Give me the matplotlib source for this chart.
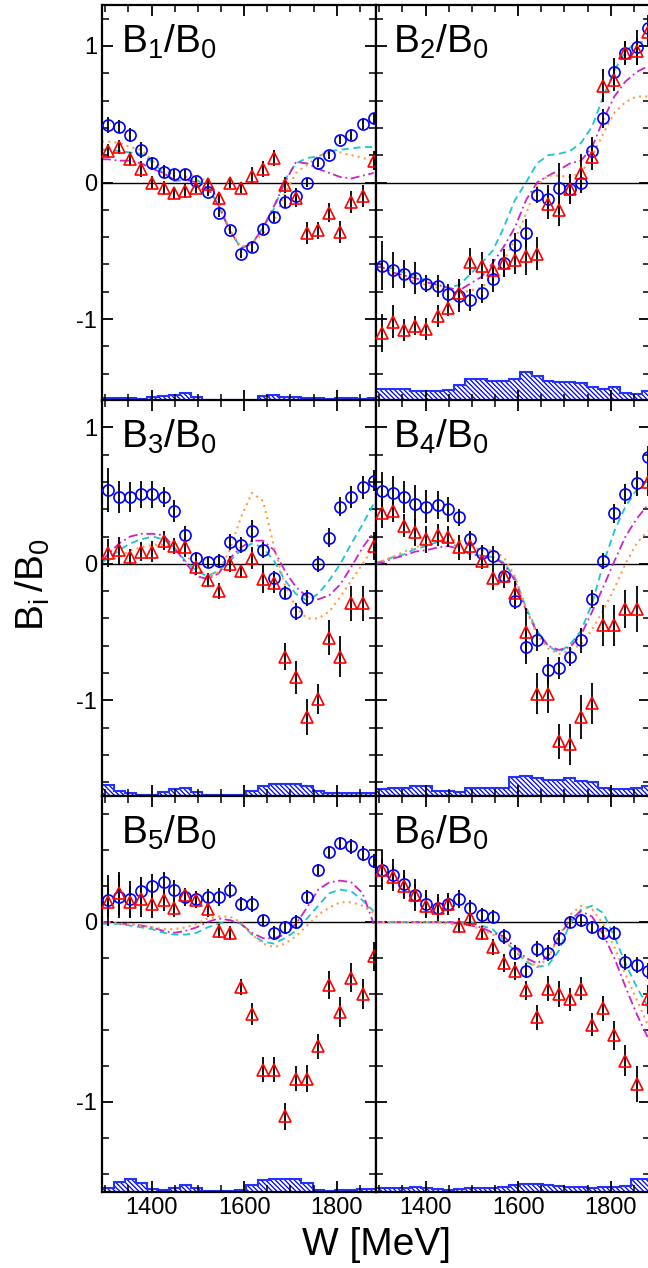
import matplotlib
matplotlib.use('Agg')
import matplotlib.pyplot as plt
from matplotlib.ticker import MultipleLocator, FixedLocator
import numpy as np

plt.rcParams['font.family'] = ['Liberation Sans', 'DejaVu Sans']
plt.rcParams['mathtext.fontset'] = 'custom'
plt.rcParams['mathtext.rm'] = 'Liberation Sans'
plt.rcParams['axes.unicode_minus'] = False
plt.rcParams['hatch.color'] = 'blue'
plt.rcParams['hatch.linewidth'] = 0.9

# energy bins (MeV)
W = [1306, 1330, 1354, 1378, 1402, 1426, 1449, 1473, 1497, 1521, 1545, 1569, 1593,
     1617, 1641, 1665, 1688, 1712, 1736, 1760, 1784, 1808, 1832, 1856, 1880]
# model curves are read at the left edge plus the data energies
W_curve = [1293] + W

# ---- B1/B0
b1_circ = [0.42, 0.41, 0.35, 0.24, 0.14, 0.08, 0.06, 0.06, 0.01, -0.07, -0.22, -0.35, -0.52,
           -0.47, -0.34, -0.25, -0.14, -0.10, 0.00, 0.14, 0.20, 0.31, 0.35, 0.43, 0.47]
b1_circ_err = [0.06, 0.05, 0.05, 0.06, 0.05, 0.05, 0.04, 0.04, 0.03, 0.03, 0.03, 0.03, 0.03,
               0.04, 0.04, 0.04, 0.05, 0.06, 0.03, 0.03, 0.03, 0.03, 0.04, 0.04, 0.04]
b1_tri = [0.23, 0.26, 0.17, 0.10, 0.00, -0.04, -0.08, -0.06, -0.04, -0.01, -0.11, 0.00, -0.04,
          0.05, 0.10, 0.18, -0.02, -0.11, -0.37, -0.35, -0.22, -0.36, -0.14, -0.10, 0.16]
b1_tri_err = [0.05, 0.05, 0.05, 0.06, 0.05, 0.05, 0.04, 0.05, 0.04, 0.04, 0.04, 0.04, 0.04,
              0.06, 0.06, 0.06, 0.06, 0.07, 0.08, 0.06, 0.07, 0.08, 0.08, 0.08, 0.07]
b1_cyan = [0.24, 0.24, 0.23, 0.22, 0.21, 0.15, 0.07, 0.01, 0.02, 0.02, -0.03, -0.17, -0.35,
           -0.48, -0.45, -0.33, -0.19, 0.02, 0.14, 0.18, 0.19, 0.23, 0.24, 0.25, 0.26, 0.26]
b1_mag = [0.17, 0.17, 0.16, 0.16, 0.14, 0.10, 0.07, 0.02, 0.02, 0.00, -0.04, -0.17, -0.35,
          -0.48, -0.45, -0.33, -0.17, 0.00, 0.15, 0.14, 0.10, 0.07, 0.04, 0.03, 0.05, 0.07]
b1_orange = [0.30, 0.30, 0.29, 0.26, 0.24, 0.16, 0.10, 0.05, 0.04, 0.06, 0.00, -0.13, -0.35,
             -0.47, -0.45, -0.37, -0.28, -0.08, 0.07, 0.13, 0.19, 0.22, 0.22, 0.20, 0.18, 0.16]
b1_hist = [0.02, 0.025, 0.02, 0.015, 0.03, 0.04, 0.045, 0.06, 0.03, 0.01, 0.005, 0.005, 0.005,
           0.01, 0.04, 0.045, 0.03, 0.03, 0.025, 0.02, 0.015, 0.02, 0.02, 0.015, 0.02]

# ---- B2/B0
b2_circ = [-0.61, -0.64, -0.67, -0.70, -0.74, -0.76, -0.82, -0.83, -0.86, -0.81, -0.71, -0.59, -0.46,
           -0.37, -0.09, -0.12, -0.04, -0.05, 0.00, 0.23, 0.47, 0.81, 0.95, 0.99, 1.13]
b2_circ_err = [0.18, 0.13, 0.10, 0.12, 0.06, 0.08, 0.08, 0.12, 0.08, 0.07, 0.09, 0.10, 0.09,
               0.10, 0.06, 0.10, 0.18, 0.11, 0.08, 0.10, 0.07, 0.10, 0.09, 0.13, 0.10]
b2_tri = [-1.10, -1.02, -1.08, -1.05, -1.07, -0.98, -0.92, -0.81, -0.58, -0.61, -0.64, -0.59, -0.57,
          -0.54, -0.52, -0.16, -0.20, -0.05, 0.07, 0.19, 0.71, 0.75, 0.95, 0.96, 1.10]
b2_tri_err = [0.14, 0.12, 0.08, 0.07, 0.08, 0.08, 0.06, 0.10, 0.10, 0.10, 0.08, 0.10, 0.10,
              0.14, 0.12, 0.11, 0.12, 0.11, 0.14, 0.10, 0.12, 0.08, 0.08, 0.10, 0.10]
b2_cyan = [-0.62, -0.61, -0.63, -0.66, -0.68, -0.72, -0.75, -0.77, -0.75, -0.67, -0.59, -0.50, -0.33,
           -0.13, 0.00, 0.14, 0.20, 0.21, 0.23, 0.29, 0.41, 0.63, 0.82, 0.96, 1.03, 1.03]
b2_mag = [-0.62, -0.62, -0.66, -0.68, -0.70, -0.73, -0.75, -0.77, -0.79, -0.74, -0.69, -0.59, -0.47,
          -0.33, -0.13, 0.00, 0.05, 0.09, 0.14, 0.16, 0.26, 0.46, 0.63, 0.74, 0.81, 0.85]
b2_orange = [-0.64, -0.64, -0.68, -0.70, -0.73, -0.75, -0.77, -0.79, -0.81, -0.79, -0.77, -0.69, -0.57,
             -0.42, -0.23, -0.02, 0.05, 0.05, 0.04, 0.07, 0.19, 0.36, 0.51, 0.59, 0.63, 0.63]
b2_hist = [0.085, 0.09, 0.09, 0.075, 0.07, 0.07, 0.08, 0.12, 0.16, 0.16, 0.15, 0.15, 0.16,
           0.21, 0.18, 0.15, 0.14, 0.14, 0.13, 0.10, 0.09, 0.10, 0.06, 0.05, 0.07]

# ---- B3/B0
b3_circ = [0.54, 0.49, 0.49, 0.51, 0.51, 0.49, 0.39, 0.21, 0.04, 0.01, 0.02, 0.16, 0.14,
           0.24, 0.10, -0.10, -0.21, -0.35, -0.25, 0.00, 0.19, 0.42, 0.49, 0.56, 0.61]
b3_circ_err = [0.16, 0.12, 0.11, 0.10, 0.10, 0.07, 0.08, 0.07, 0.045, 0.04, 0.05, 0.06, 0.06,
               0.08, 0.06, 0.05, 0.045, 0.06, 0.055, 0.06, 0.07, 0.07, 0.08, 0.085, 0.08]
b3_tri = [0.08, 0.10, 0.05, 0.09, 0.09, 0.17, 0.13, 0.12, -0.02, -0.12, -0.20, 0.00, -0.05,
          0.04, -0.11, -0.14, -0.68, -0.83, -1.12, -0.99, -0.54, -0.68, -0.29, -0.29, 0.13]
b3_tri_err = [0.10, 0.10, 0.06, 0.07, 0.08, 0.07, 0.06, 0.07, 0.06, 0.05, 0.06, 0.06, 0.05,
              0.08, 0.10, 0.07, 0.10, 0.12, 0.13, 0.11, 0.13, 0.15, 0.13, 0.13, 0.10]
b3_cyan = [0.01, 0.04, 0.10, 0.15, 0.18, 0.20, 0.18, 0.12, 0.02, -0.05, -0.09, -0.05, 0.02,
           0.10, 0.15, 0.12, 0.02, -0.12, -0.22, -0.27, -0.22, -0.12, 0.00, 0.15, 0.29, 0.44]
b3_mag = [0.02, 0.07, 0.15, 0.20, 0.22, 0.22, 0.21, 0.12, 0.01, -0.09, -0.11, -0.07, 0.04,
          0.12, 0.17, 0.17, 0.10, -0.05, -0.17, -0.24, -0.26, -0.23, -0.15, -0.02, 0.12, 0.23]
b3_orange = [0.01, 0.02, 0.05, 0.10, 0.12, 0.14, 0.14, 0.12, 0.07, -0.02, -0.10, -0.06, 0.10,
             0.34, 0.52, 0.46, 0.12, -0.15, -0.32, -0.40, -0.40, -0.35, -0.24, -0.12, 0.00, 0.12]
b3_hist = [0.08, 0.04, 0.025, 0.01, 0.01, 0.03, 0.05, 0.06, 0.03, 0.01, 0.01, 0.01, 0.01,
           0.04, 0.07, 0.085, 0.085, 0.085, 0.07, 0.04, 0.02, 0.02, 0.02, 0.02, 0.02]

# ---- B4/B0
b4_circ = [0.53, 0.52, 0.49, 0.44, 0.42, 0.43, 0.40, 0.34, 0.18, 0.08, 0.06, -0.09, -0.27,
           -0.61, -0.56, -0.78, -0.76, -0.68, -0.56, -0.26, 0.02, 0.37, 0.51, 0.59, 0.78]
b4_circ_err = [0.14, 0.12, 0.12, 0.14, 0.12, 0.10, 0.09, 0.06, 0.06, 0.055, 0.07, 0.05, 0.06,
               0.12, 0.08, 0.10, 0.08, 0.07, 0.09, 0.065, 0.06, 0.07, 0.075, 0.09, 0.08]
b4_tri = [0.37, 0.39, 0.28, 0.23, 0.18, 0.21, 0.20, 0.12, 0.13, 0.02, -0.10, -0.09, -0.21,
          -0.50, -0.95, -0.95, -1.30, -1.32, -1.12, -1.02, -0.45, -0.45, -0.33, -0.33, 0.60]
b4_tri_err = [0.11, 0.085, 0.085, 0.10, 0.10, 0.08, 0.08, 0.09, 0.10, 0.06, 0.09, 0.09, 0.085,
              0.18, 0.15, 0.14, 0.13, 0.15, 0.16, 0.15, 0.15, 0.15, 0.14, 0.17, 0.10]
b4_cyan = [0.01, 0.02, 0.05, 0.07, 0.11, 0.13, 0.16, 0.16, 0.12, 0.07, 0.06, 0.05, 0.01,
           -0.10, -0.32, -0.49, -0.60, -0.65, -0.59, -0.49, -0.29, 0.00, 0.24, 0.42, 0.54, 0.61]
b4_mag = [0.00, 0.01, 0.04, 0.06, 0.09, 0.10, 0.12, 0.13, 0.11, 0.07, 0.06, 0.05, 0.00,
          -0.12, -0.34, -0.50, -0.60, -0.63, -0.61, -0.52, -0.35, -0.17, 0.02, 0.20, 0.33, 0.43]
b4_orange = [0.01, 0.02, 0.05, 0.09, 0.12, 0.15, 0.17, 0.18, 0.17, 0.13, 0.10, 0.10, 0.05,
             -0.09, -0.32, -0.52, -0.62, -0.66, -0.63, -0.59, -0.48, -0.34, -0.18, 0.00, 0.15, 0.24]
b4_hist = [0.05, 0.055, 0.06, 0.075, 0.07, 0.04, 0.035, 0.03, 0.06, 0.06, 0.06, 0.06, 0.14,
           0.15, 0.13, 0.12, 0.12, 0.13, 0.11, 0.10, 0.06, 0.05, 0.05, 0.06, 0.07]

# ---- B5/B0
b5_circ = [0.12, 0.14, 0.13, 0.17, 0.20, 0.22, 0.18, 0.14, 0.13, 0.14, 0.14, 0.18, 0.10,
           0.10, 0.01, -0.06, -0.03, 0.00, 0.14, 0.29, 0.39, 0.44, 0.42, 0.38, 0.34]
b5_circ_err = [0.14, 0.12, 0.10, 0.08, 0.065, 0.06, 0.055, 0.05, 0.04, 0.045, 0.05, 0.045, 0.04,
               0.045, 0.03, 0.04, 0.035, 0.04, 0.04, 0.03, 0.035, 0.035, 0.04, 0.04, 0.04]
b5_tri = [0.11, 0.16, 0.11, 0.13, 0.10, 0.12, 0.08, 0.15, 0.12, 0.07, -0.05, -0.06, -0.36,
          -0.51, -0.82, -0.82, -1.08, -0.87, -0.87, -0.69, -0.35, -0.50, -0.31, -0.40, -0.19]
b5_tri_err = [0.08, 0.12, 0.09, 0.10, 0.08, 0.06, 0.05, 0.04, 0.04, 0.04, 0.04, 0.04, 0.045,
              0.06, 0.07, 0.07, 0.075, 0.07, 0.075, 0.07, 0.08, 0.085, 0.08, 0.085, 0.08]
b5_cyan = [-0.01, -0.01, -0.01, -0.02, -0.03, -0.04, -0.06, -0.07, -0.07, -0.06, -0.03, -0.01, 0.01,
           -0.01, -0.07, -0.11, -0.12, -0.09, -0.05, 0.02, 0.09, 0.16, 0.18, 0.17, 0.12, 0.06]
b5_mag = [0.00, 0.00, -0.01, -0.01, -0.02, -0.03, -0.05, -0.06, -0.05, -0.03, 0.00, 0.02, 0.01,
          -0.01, -0.06, -0.09, -0.09, -0.07, -0.01, 0.08, 0.18, 0.22, 0.23, 0.22, 0.16, -0.01]
b5_orange = [0.00, 0.00, -0.01, -0.01, -0.02, -0.03, -0.04, -0.04, -0.03, -0.01, 0.02, 0.03, 0.03,
             0.00, -0.07, -0.12, -0.14, -0.12, -0.08, -0.02, 0.04, 0.08, 0.11, 0.11, 0.09, 0.05]
b5_hist = [0.02, 0.055, 0.075, 0.05, 0.015, 0.01, 0.025, 0.04, 0.02, 0.005, 0.005, 0.005, 0.01,
           0.04, 0.065, 0.075, 0.075, 0.07, 0.05, 0.01, 0.005, 0.01, 0.01, 0.015, 0.015]

# ---- B6/B0
b6_circ = [0.29, 0.26, 0.21, 0.15, 0.10, 0.08, 0.10, 0.13, 0.08, 0.04, 0.03, -0.08, -0.17,
           -0.27, -0.15, -0.17, -0.09, 0.00, 0.01, -0.03, -0.06, -0.06, -0.22, -0.24, -0.27]
b6_circ_err = [0.11, 0.09, 0.08, 0.09, 0.08, 0.075, 0.06, 0.05, 0.045, 0.04, 0.035, 0.04, 0.04,
               0.04, 0.045, 0.045, 0.045, 0.035, 0.035, 0.035, 0.04, 0.04, 0.045, 0.045, 0.045]
b6_tri = [0.29, 0.25, 0.20, 0.15, 0.09, 0.08, 0.10, -0.02, 0.02, -0.06, -0.14, -0.23, -0.27,
          -0.38, -0.53, -0.37, -0.40, -0.43, -0.37, -0.57, -0.48, -0.63, -0.77, -0.90, -0.43]
b6_tri_err = [0.06, 0.06, 0.06, 0.06, 0.06, 0.06, 0.05, 0.04, 0.04, 0.04, 0.045, 0.05, 0.05,
              0.055, 0.07, 0.07, 0.07, 0.065, 0.065, 0.065, 0.07, 0.08, 0.085, 0.10, 0.08]
b6_cyan = [0.00, 0.00, 0.00, 0.00, 0.00, 0.00, 0.00, 0.00, 0.00, 0.00, -0.02, -0.04, -0.10,
           -0.16, -0.22, -0.25, -0.24, -0.16, -0.01, 0.07, 0.09, 0.05, -0.08, -0.23, -0.36, -0.47]
b6_mag = [0.00, 0.00, 0.00, 0.00, 0.00, 0.00, 0.00, 0.00, -0.01, -0.02, -0.03, -0.06, -0.08,
          -0.14, -0.20, -0.23, -0.19, -0.08, 0.01, 0.06, 0.03, -0.07, -0.20, -0.36, -0.51, -0.64]
b6_orange = [0.00, 0.00, 0.00, 0.00, 0.00, 0.00, 0.00, -0.01, -0.01, -0.02, -0.04, -0.07, -0.10,
             -0.16, -0.21, -0.25, -0.20, -0.08, 0.04, 0.09, 0.07, -0.01, -0.14, -0.29, -0.43, -0.57]
b6_hist = [0.02, 0.02, 0.025, 0.03, 0.025, 0.015, 0.01, 0.015, 0.02, 0.02, 0.025, 0.03, 0.04,
           0.045, 0.045, 0.04, 0.035, 0.03, 0.03, 0.025, 0.03, 0.03, 0.035, 0.07, 0.07]

panels = [
    ('1', b1_circ, b1_circ_err, b1_tri, b1_tri_err, b1_cyan, b1_mag, b1_orange, b1_hist),
    ('2', b2_circ, b2_circ_err, b2_tri, b2_tri_err, b2_cyan, b2_mag, b2_orange, b2_hist),
    ('3', b3_circ, b3_circ_err, b3_tri, b3_tri_err, b3_cyan, b3_mag, b3_orange, b3_hist),
    ('4', b4_circ, b4_circ_err, b4_tri, b4_tri_err, b4_cyan, b4_mag, b4_orange, b4_hist),
    ('5', b5_circ, b5_circ_err, b5_tri, b5_tri_err, b5_cyan, b5_mag, b5_orange, b5_hist),
    ('6', b6_circ, b6_circ_err, b6_tri, b6_tri_err, b6_cyan, b6_mag, b6_orange, b6_hist),
]
row_ylims = [(-1.6, 1.3), (-1.7, 1.2), (-1.5, 0.7)]

# layout in pixels of a 648x1268 canvas
fw, fh = 648., 1268.
col_left = [102, 376]
col_w = 274
row_top = [5, 400, 796]
row_h = 396

Wa = np.array(W, dtype=float)
edges = np.concatenate([[Wa[0] - 12], (Wa[:-1] + Wa[1:]) / 2, [Wa[-1] + 12]])

fig = plt.figure(figsize=(fw / 100, fh / 100), dpi=100)

for k, (lab, circ, circ_err, tri, tri_err, cyan, mag, orange, hist) in enumerate(panels):
    row, col = k // 2, k % 2
    ax = fig.add_axes([col_left[col] / fw, 1 - (row_top[row] + row_h) / fh, col_w / fw, row_h / fh])
    ylo, yhi = row_ylims[row]

    # systematic error band at the bottom of each panel
    top = np.array(hist) + ylo
    ax.stairs(top, edges, baseline=ylo, fill=True, facecolor='white',
              edgecolor='blue', hatch='\\' * 7, linewidth=0, zorder=1)
    ax.stairs(top, edges, baseline=None, color='#2233ff', linewidth=1.5, zorder=1.1)
    ax.axhline(0, color='black', linewidth=1.0, zorder=1.5)

    ax.plot(W_curve, cyan, color='#1cc6cc', linestyle=(0, (4, 2.5)), linewidth=1.3, zorder=2)
    ax.plot(W_curve, mag, color='#cc22cc', linestyle=(0, (5, 2, 1, 2)), linewidth=1.3, zorder=2)
    ax.plot(W_curve, orange, color='#ff9c45', linestyle=(0, (1, 2)), linewidth=1.5, zorder=2)

    ax.errorbar(W, circ, yerr=circ_err, fmt='none', ecolor='black', elinewidth=1.3, zorder=3)
    ax.errorbar(W, tri, yerr=tri_err, fmt='none', ecolor='black', elinewidth=1.3, zorder=3)
    ax.plot(W, circ, 'o', mfc='none', mec='blue', ms=8, mew=1.2, zorder=4, clip_on=False)
    ax.plot(W, tri, '^', mfc='none', mec='red', ms=8.5, mew=1.2, zorder=4, clip_on=False)

    ax.set_xlim(1293, 1885)
    ax.set_ylim(ylo, yhi)
    ax.xaxis.set_major_locator(FixedLocator([1400, 1600, 1800]))
    ax.xaxis.set_minor_locator(MultipleLocator(50))
    ax.yaxis.set_major_locator(MultipleLocator(1))
    ax.yaxis.set_minor_locator(MultipleLocator(0.2))
    ax.tick_params(which='both', direction='in', top=True, right=True, labelsize=17)
    ax.tick_params(which='major', length=8, width=1.3)
    ax.tick_params(which='minor', length=5, width=1.1)
    for s in ax.spines.values():
        s.set_linewidth(1.6)
    if col == 1:
        ax.tick_params(labelleft=False)
    if row < 2:
        ax.tick_params(labelbottom=False)

    ax.text(0.07 if col == 0 else 0.062, 0.88, r'$\mathregular{B_%s/B_0}$' % lab,
            transform=ax.transAxes, fontsize=28, ha='left', va='baseline')

fig.text(0.05, 0.539, r'$\mathregular{B_i\,/B_0}$', rotation=90, fontsize=28,
         ha='center', va='center')
fig.text(376 / fw, 0.018, 'W [MeV]', fontsize=28, ha='center', va='center')

fig.savefig('out.png', dpi=100)
